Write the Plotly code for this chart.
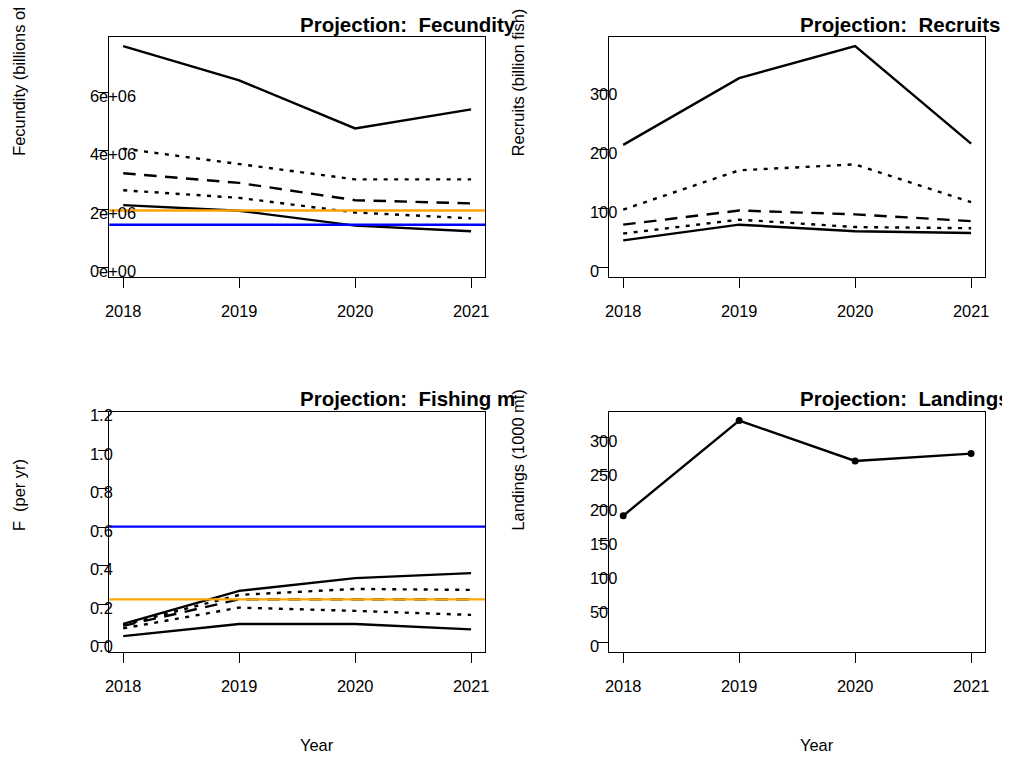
import plotly.graph_objects as go

# projection years
years = [2018, 2019, 2020, 2021]

# fecundity (eggs), 5 percentile lines: upper, upper-mid, median, lower-mid, lower
fec_hi = [7.57e6, 6.40e6, 4.76e6, 5.41e6]
fec_q3 = [4.07e6, 3.54e6, 3.02e6, 3.02e6]
fec_med = [3.23e6, 2.90e6, 2.31e6, 2.20e6]
fec_q1 = [2.65e6, 2.39e6, 1.89e6, 1.69e6]
fec_lo = [2.14e6, 1.95e6, 1.44e6, 1.25e6]
fec_target = 1.96e6   # orange
fec_thresh = 1.47e6   # blue

# recruits (billion fish)
rec_hi = [208, 321, 375, 210]
rec_q3 = [98.5, 165, 175, 111]
rec_med = [73, 97, 90.5, 79]
rec_q1 = [58, 81.5, 69, 67]
rec_lo = [46.5, 73, 62, 59]

# fishing mortality (per yr)
f_hi = [0.098, 0.270, 0.336, 0.362]
f_q3 = [0.093, 0.249, 0.280, 0.275]
f_med = [0.088, 0.226, 0.226, 0.226]
f_q1 = [0.075, 0.183, 0.166, 0.145]
f_lo = [0.035, 0.098, 0.098, 0.070]
f_target = 0.226   # orange
f_thresh = 0.604   # blue
f_ylim = 1.155

# landings (1000 mt)
landings = [185.9, 325, 266, 276.7]

# tick labels
fec_ticks = [0, 2e6, 4e6, 6e6]
fec_ticktext = ["0e+00", "2e+06", "4e+06", "6e+06"]
rec_ticks = [0, 100, 200, 300]
f_ticks = [0.0, 0.2, 0.4, 0.6, 0.8, 1.0, 1.2]
f_ticktext = ["0.0", "0.2", "0.4", "0.6", "0.8", "1.0", "1.2"]
land_ticks = [0, 50, 100, 150, 200, 250, 300]

W, H = 1010, 757
OFF = 8  # page margin of the html body
FONT = "Liberation Sans, Arial, sans-serif"


def px(x):
    return (x - OFF) / W


def py(y):
    return 1 - (y - OFF) / H


fig = go.Figure()

# panel boxes in page pixels (left, top, right, bottom)
boxes = {
    1: (109.3, 37.3, 485, 276.7),
    2: (609.3, 37.3, 985, 276.7),
    3: (109.3, 411.7, 485, 651.7),
    4: (609.3, 411.7, 985, 651.7),
}

# solid, dotted, dashed, dotted, solid
dashes = ["solid", "4px,6.5px", "12.5px,8.5px", "4px,6.5px", "solid"]


def add_bands(series, n):
    sx = "" if n == 1 else str(n)
    for vals, d in zip(series, dashes):
        fig.add_trace(go.Scatter(
            x=years, y=vals, mode="lines", xaxis="x" + sx, yaxis="y" + sx, showlegend=False,
            line=dict(color="black", width=2.4, dash=d),
        ))


add_bands([fec_hi, fec_q3, fec_med, fec_q1, fec_lo], 1)
add_bands([rec_hi, rec_q3, rec_med, rec_q1, rec_lo], 2)
add_bands([f_hi, f_q3, f_med, f_q1, f_lo], 3)
fig.add_trace(go.Scatter(x=years, y=landings, mode="lines+markers", xaxis="x4", yaxis="y4",
                         showlegend=False, line=dict(color="black", width=2.4),
                         marker=dict(color="black", size=7)))

# reference lines
for yv, col, n in [(fec_target, "orange", 1), (fec_thresh, "blue", 1),
                   (f_target, "orange", 3), (f_thresh, "blue", 3)]:
    sx = "" if n == 1 else str(n)
    fig.add_shape(type="line", xref="x" + sx + " domain", yref="y" + sx, x0=0, x1=1,
                  y0=yv, y1=yv, line=dict(color=col, width=2.4), layer="above")

ranges = {1: max(fec_hi), 2: max(rec_hi), 3: f_ylim, 4: max(landings)}
yticks = {
    1: (fec_ticks, fec_ticktext),
    2: (rec_ticks, [str(v) for v in rec_ticks]),
    3: (f_ticks, f_ticktext),
    4: (land_ticks, [str(v) for v in land_ticks]),
}
titles = {1: "Projection:  Fecundity", 2: "Projection:  Recruits",
          3: "Projection:  Fishing m", 4: "Projection:  Landings"}
ylabels = {1: "Fecundity (billions of eggs)", 2: "Recruits (billion fish)",
           3: "F  (per yr)", 4: "Landings (1000 mt)"}

axfont = dict(family=FONT, size=16.4, color="black")
ann = []
for n, (l, t, r, b) in boxes.items():
    sx = "" if n == 1 else str(n)
    xa = dict(domain=[px(l), px(r)], range=[years[0] - 0.12, years[-1] + 0.12],
              anchor="y" + sx, showgrid=False, zeroline=False, showline=True, mirror=True,
              linecolor="black", linewidth=1, ticks="outside", ticklen=10, tickcolor="black",
              tickwidth=1, tickvals=years, showticklabels=False)
    m = ranges[n]
    ya = dict(domain=[py(b), py(t)], range=[-0.04 * m, 1.04 * m],
              anchor="x" + sx, showgrid=False, zeroline=False, showline=True, mirror=True,
              linecolor="black", linewidth=1, ticks="outside", ticklen=10, tickcolor="black",
              tickwidth=1, tickvals=yticks[n][0], showticklabels=False)
    fig.layout["xaxis" + sx] = xa
    fig.layout["yaxis" + sx] = ya
    xr = "x" + sx
    yr = "y" + sx
    # y tick labels (left aligned, overlapping the ticks)
    for v, txt in zip(*yticks[n]):
        ann.append(dict(xref=xr + " domain", yref=yr, x=0, y=v, xshift=-21.3, yshift=-3.5,
                        xanchor="left", yanchor="middle", text=txt, showarrow=False, font=axfont))
    # x tick labels
    for yr_ in years:
        ann.append(dict(xref=xr, yref=yr + " domain", x=yr_, y=0, yshift=-34,
                        xanchor="center", yanchor="middle", text=str(yr_), showarrow=False,
                        font=axfont))
    cx = (l + r) / 2
    cy = (t + b) / 2
    ann.append(dict(xref="paper", yref="paper", x=px(cx + 1), y=py(t - 13),
                    xanchor="left", yanchor="middle", text="<b>" + titles[n] + "</b>",
                    showarrow=False, font=dict(family=FONT, size=20.5, color="black")))
    ann.append(dict(xref="paper", yref="paper", x=px(l - 91), y=py(cy + 1),
                    xanchor="center", yanchor="bottom", text=ylabels[n], textangle=-90,
                    showarrow=False, font=axfont))
    if n in (3, 4):
        ann.append(dict(xref="paper", yref="paper", x=px(cx + 1), y=py(b + 93),
                        xanchor="left", yanchor="middle", text="Year", showarrow=False,
                        font=axfont))

fig.update_layout(width=W, height=H, margin=dict(l=0, r=0, t=0, b=0),
                  paper_bgcolor="white", plot_bgcolor="white", annotations=ann,
                  font=dict(family=FONT, color="black"))

fig.write_html("out.html")
